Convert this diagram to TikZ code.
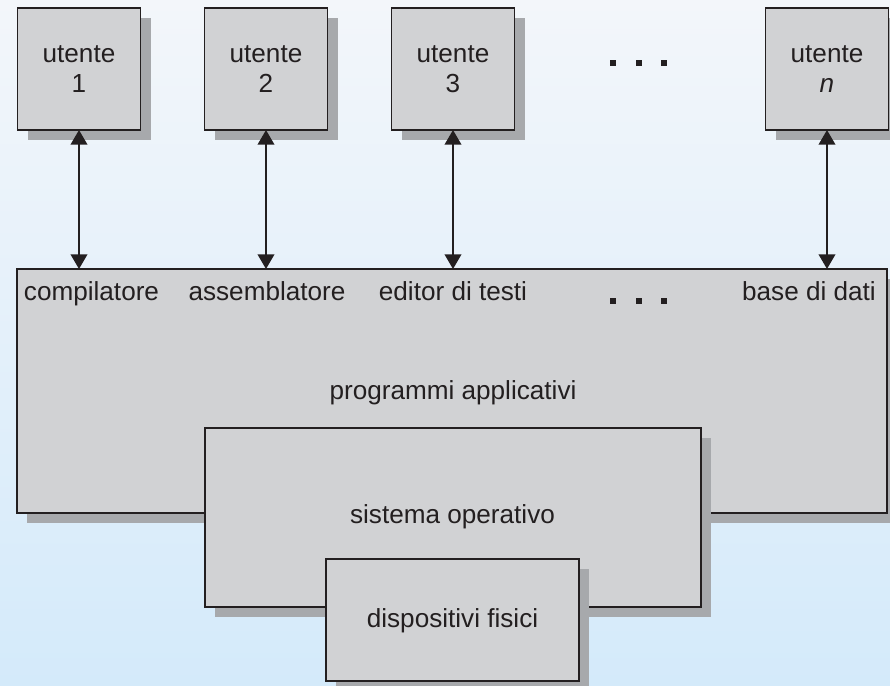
\documentclass[tikz,border=0pt]{standalone}
\usepackage{fontspec}
\setmainfont{Liberation Sans}
\usetikzlibrary{arrows.meta,shadows}
\definecolor{boxgray}{HTML}{D1D2D4}
\definecolor{shadowgray}{HTML}{A7A9AC}
\definecolor{inkline}{HTML}{231F20}
\definecolor{bgtop}{HTML}{F3F6FA}
\definecolor{bgbottom}{HTML}{D4EAFA}
\tikzset{
  box/.style={draw=inkline, fill=boxgray, line width=1.1pt, inner sep=0pt, outer sep=0pt,
    drop shadow={shadow xshift=7.5pt, shadow yshift=-7.5pt, fill=shadowgray, opacity=1}},
  txt/.style={inner sep=0pt, outer sep=0pt, text=inkline, anchor=base,
    font=\fontsize{19.6}{22.5}\selectfont},
  link/.style={draw=inkline, line width=1.2pt, {Triangle[length=11pt,width=12.5pt]}-{Triangle[length=11pt,width=12.5pt]}},
  dot/.style={fill=inkline, inner sep=0pt, minimum size=5.2pt, outer sep=0pt}
}
\begin{document}
\begin{tikzpicture}[x=0.75pt,y=-0.75pt]
\useasboundingbox (0,0) rectangle (890,686);
\shade[top color=bgtop, bottom color=bgbottom] (0,0) rectangle (890,686);

% big boxes
\node[box, minimum width={870*0.75pt}, minimum height={244*0.75pt}] (app) at (452,391) {};
\node[box, minimum width={496*0.75pt}, minimum height={179*0.75pt}] (os) at (453,517.5) {};
\node[box, minimum width={253*0.75pt}, minimum height={122*0.75pt}] (hw) at (452.5,620) {};

% user boxes
\node[box, minimum width={123*0.75pt}, minimum height={122*0.75pt}] (u1) at (79,69) {};
\node[box, minimum width={123*0.75pt}, minimum height={122*0.75pt}] (u2) at (266,69) {};
\node[box, minimum width={123*0.75pt}, minimum height={122*0.75pt}] (u3) at (453,69) {};
\node[box, minimum width={123*0.75pt}, minimum height={122*0.75pt}] (un) at (827,69) {};

% user texts
\node[txt] (t1a) at (79,62) {utente};
\node[txt] (t1b) at (79,92) {1};
\node[txt] (t2a) at (266,62) {utente};
\node[txt] (t2b) at (266,92) {2};
\node[txt] (t3a) at (453,62) {utente};
\node[txt] (t3b) at (453,92) {3};
\node[txt] (tna) at (827,62) {utente};
\node[txt] (tnb) at (827,92) {\itshape n};

% arrows
\draw[link] (u1.south) -- (u1.south |- app.north);
\draw[link] (u2.south) -- (u2.south |- app.north);
\draw[link] (u3.south) -- (u3.south |- app.north);
\draw[link] (un.south) -- (un.south |- app.north);

% program labels
\node[txt] (l1) at (91.5,300) {compilatore};
\node[txt] (l2) at (267,300) {assemblatore};
\node[txt] (l3) at (453,300) {editor di testi};
\node[txt] (l4) at (809,300) {base di dati};

\node[txt] (lapp) at (453,399) {programmi applicativi};
\node[txt] (los) at (452.5,523) {sistema operativo};
\node[txt] (lhw) at (452.5,627) {dispositivi fisici};

% ellipsis dots
\node[dot] (d1) at (613,63) {};
\node[dot] (d2) at (639,63) {};
\node[dot] (d3) at (664,63) {};
\node[dot] (d4) at (613,301) {};
\node[dot] (d5) at (639,301) {};
\node[dot] (d6) at (664,301) {};
\end{tikzpicture}
\end{document}
